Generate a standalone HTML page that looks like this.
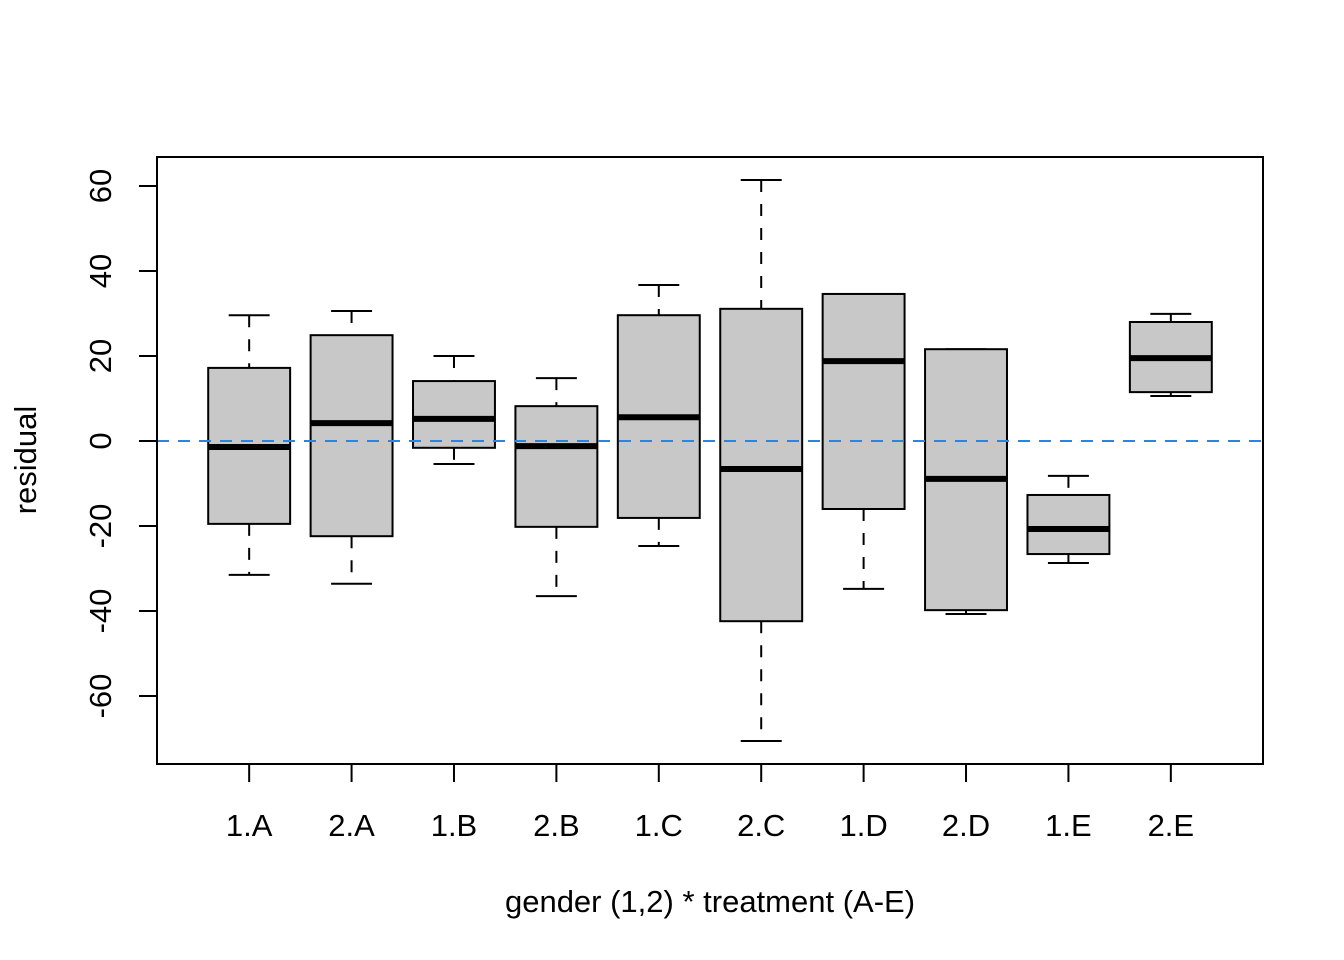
<!DOCTYPE html>
<html><head><meta charset="utf-8"><style>body{margin:0;background:#fff}svg{display:block}text{font-family:"Liberation Sans",Arial,sans-serif;fill:#000}</style></head>
<body>
<svg id="chart" width="1344" height="960"></svg>
<script>
const categories=["1.A","2.A","1.B","2.B","1.C","2.C","1.D","2.D","1.E","2.E"];
const whiskerHigh=[29.6,30.6,20,14.8,36.7,61.4,34.6,21.6,-8.2,29.9];
const q3=[17.2,24.9,14.1,8.2,29.6,31.1,34.6,21.6,-12.7,28];
const medians=[-1.4,4.2,5.2,-1.2,5.6,-6.6,18.8,-8.9,-20.7,19.5];
const q1=[-19.5,-22.4,-1.6,-20.2,-18.1,-42.4,-16,-39.8,-26.6,11.5];
const whiskerLow=[-31.5,-33.6,-5.4,-36.5,-24.7,-70.6,-34.8,-40.7,-28.7,10.6];
const yTicks=[-60,-40,-20,0,20,40,60];
const NS="http://www.w3.org/2000/svg";
const svg=document.getElementById('chart');
const L=157,R=1263,T=157,B=764;
const xs=i=>L+(i+1-0.1)*(R-L)/10.8;
const ys=v=>441-v*4.25;
const step=(R-L)/10.8;
function mk(tag,attrs,parent){const e=document.createElementNS(NS,tag);for(const k in attrs)e.setAttribute(k,attrs[k]);(parent||svg).appendChild(e);return e;}
categories.forEach((c,i)=>{
  const g=mk('g',{});
  
  
  const x=xs(i),hw=step*0.4,cw=step*0.2;
  mk('line',{x1:x,x2:x,y1:ys(whiskerHigh[i]),y2:ys(q3[i]),stroke:'#000','stroke-width':2,'stroke-dasharray':'12,12'},g);
  mk('line',{x1:x,x2:x,y1:ys(q1[i]),y2:ys(whiskerLow[i]),stroke:'#000','stroke-width':2,'stroke-dasharray':'12,12'},g);
  mk('line',{x1:x-cw,x2:x+cw,y1:ys(whiskerHigh[i]),y2:ys(whiskerHigh[i]),stroke:'#000','stroke-width':2},g);
  mk('line',{x1:x-cw,x2:x+cw,y1:ys(whiskerLow[i]),y2:ys(whiskerLow[i]),stroke:'#000','stroke-width':2},g);
  mk('rect',{x:x-hw,y:ys(q3[i]),width:2*hw,height:ys(q1[i])-ys(q3[i]),fill:'#c8c8c8',stroke:'#000','stroke-width':2},g);
  mk('line',{x1:x-hw,x2:x+hw,y1:ys(medians[i]),y2:ys(medians[i]),stroke:'#000','stroke-width':6},g);
  const t=mk('line',{x1:x,x2:x,y1:B,y2:B+18,stroke:'#000','stroke-width':2});
  
  
  const lb=mk('text',{x:x,y:836,'text-anchor':'middle','font-size':31});
  lb.textContent=c;
  
  
});
const zl=mk('line',{x1:L,x2:R,y1:ys(0),y2:ys(0),stroke:'#2a85e0','stroke-width':2,'stroke-dasharray':'12,9'});


yTicks.forEach(v=>{
  const y=ys(v);
  const t=mk('line',{x1:L,x2:L-18,y1:y,y2:y,stroke:'#000','stroke-width':2});
  
  
  const lb=mk('text',{x:111,y:y,'text-anchor':'middle','font-size':31,transform:`rotate(-90 111 ${y})`});
  lb.textContent=v;
  
  
});
const fr=mk('rect',{x:L,y:T,width:R-L,height:B-T,fill:'none',stroke:'#000','stroke-width':2});


const xt=mk('text',{x:710,y:912,'text-anchor':'middle','font-size':31});
xt.textContent='gender (1,2) * treatment (A-E)';


const yt=mk('text',{x:36,y:460,'text-anchor':'middle','font-size':31,transform:'rotate(-90 36 460)'});
yt.textContent='residual';


</script>
</body></html>
